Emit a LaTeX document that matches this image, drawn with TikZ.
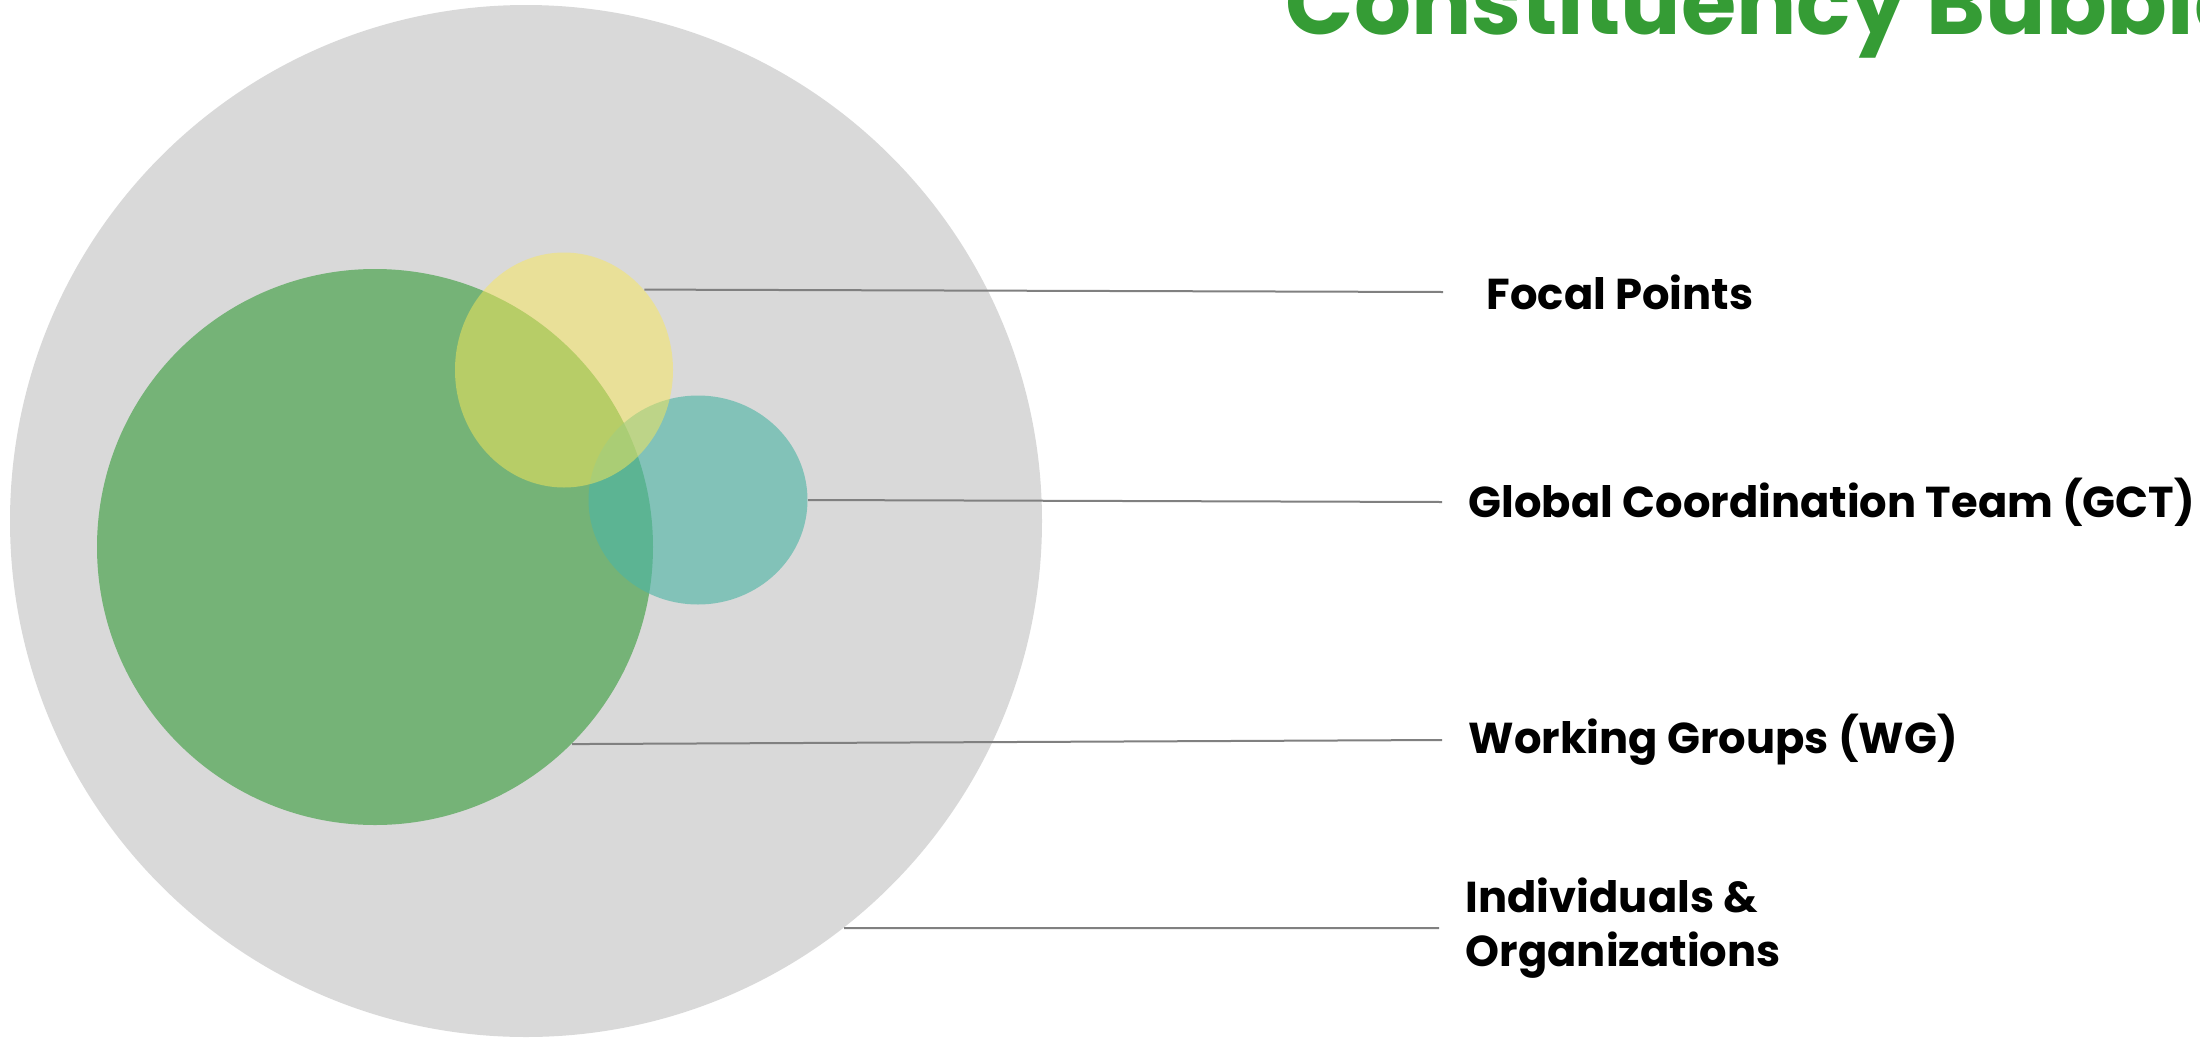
\documentclass[tikz,border=0pt]{standalone}
\usepackage{fontspec}
\setmainfont{Poppins}
\usetikzlibrary{shapes.geometric}

\definecolor{bubblegray}{HTML}{D9D9D9}
\definecolor{wggreen}{HTML}{75B377}
\definecolor{gctteal}{RGB}{77,181,165}
\definecolor{fpyellow}{RGB}{249,231,89}
\definecolor{titlegreen}{HTML}{359C35}

\begin{document}
\begin{tikzpicture}[x=0.1mm, y=-0.1mm, bubble/.style={ellipse, inner sep=0pt, draw=none}, bubbletext/.style={anchor=west, inner xsep=2.6mm, inner ysep=0pt, align=left, font=\bfseries\fontsize{12.3}{15.4}\selectfont}, leader/.style={draw=black!50, line width=0.2mm}]

  \useasboundingbox (0,0) rectangle (2200,1038);

  \node[anchor=base west, inner sep=0pt, text=titlegreen, font=\bfseries\fontsize{25.5}{30}\selectfont] (title) at (1285,34) {Constituency Bubbles};

  \node[bubble, fill=bubblegray, minimum width=103.2mm, minimum height=103.2mm] (indiv) at (526,521) {};
  \node[bubble, fill=wggreen, minimum width=55.6mm, minimum height=55.6mm] (wg) at (375,547) {};
  \node[bubble, fill=gctteal, fill opacity=0.62, minimum width=21.9mm, minimum height=20.9mm] (gct) at (698,500) {};
  \node[bubble, fill=fpyellow, fill opacity=0.5, minimum width=21.8mm, minimum height=23.5mm] (fp) at (564,370) {};

  \node[bubbletext, inner xsep=4.3mm] (fplabel) at (1443,292) {Focal Points};
  \node[bubbletext] (gctlabel) at (1442,502) {Global Coordination Team (GCT)};
  \node[bubbletext] (wglabel) at (1442,740) {Working Groups (WG)};
  \node[bubbletext] (indlabel) at (1439,928) {Individuals \&\\Organizations};

  \draw[leader] (fp.45) -- (fplabel.west);
  \draw[leader] (gct.east) -- (gctlabel.west);
  \draw[leader] (wg.-45) -- (wglabel.west);
  \draw[leader] (indiv.-52) -- (indlabel.west);
\end{tikzpicture}
\end{document}
